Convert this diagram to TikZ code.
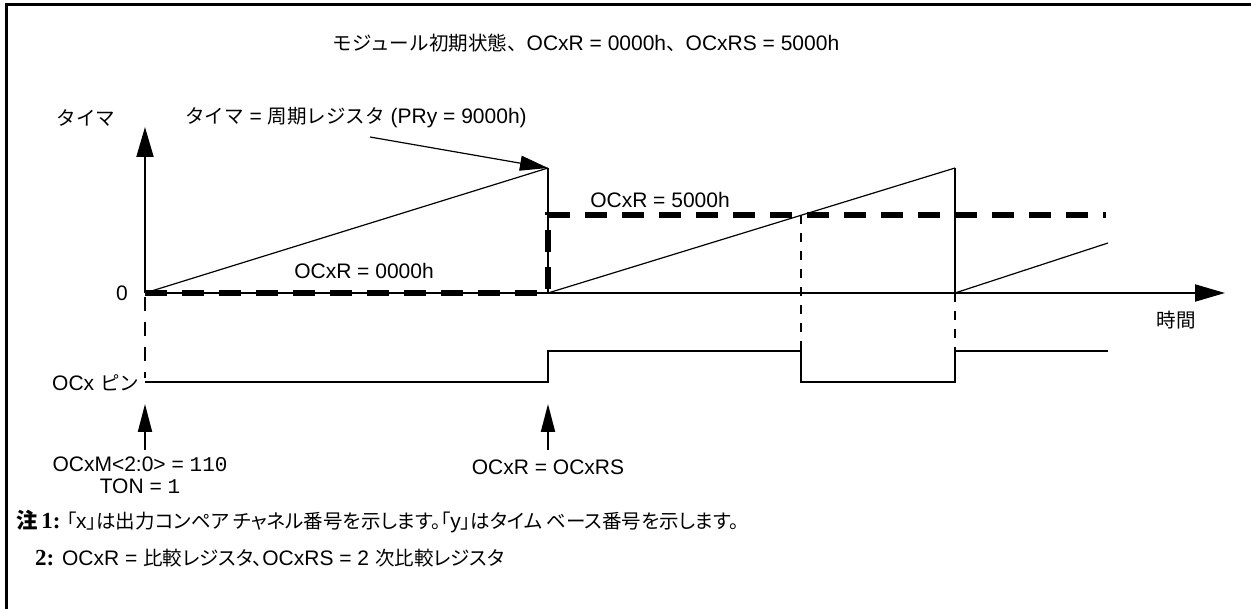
\documentclass[tikz,border=0pt]{standalone}
\usepackage{fontspec}
\setmainfont{Liberation Sans}
\newfontfamily\jpf[Scale=0.93]{Noto Sans CJK JP}
\newfontfamily\jpn[Scale=0.93,RawFeature=+palt]{Noto Sans CJK JP}
\newfontfamily\serifb{Liberation Serif}
\newfontfamily\monof{Liberation Mono}
\usetikzlibrary{arrows.meta}
\begin{document}
\begin{tikzpicture}[x=1pt,y=-1pt,
  txt/.style={inner sep=0pt,font=\fontsize{21}{25}\selectfont},
  axis/.style={line width=2pt},
  ramp/.style={line width=1.2pt},
  cmp/.style={line width=6pt,dash pattern=on 22pt off 15pt},
  guide/.style={line width=2pt,dash pattern=on 9pt off 9pt},
  bigtip/.style={-{Triangle[length=30pt,width=17pt]}},
  uptip/.style={-{Triangle[length=28pt,width=14pt]}}]
\useasboundingbox (0,0) rectangle (1251,609);
% frame
\draw[line width=3pt] (6,609) -- (6,5) -- (1251,5);
% coordinates
\coordinate (O) at (145,293);
\coordinate (ytop) at (145,127);
\coordinate (xend) at (1225,293);
\coordinate (p1) at (548,168);
\coordinate (p1b) at (548,293);
\coordinate (p2) at (955,168);
\coordinate (p2b) at (955,293);
\coordinate (r3) at (1108,243);
\coordinate (d1) at (548,215);
\coordinate (d2) at (1106,215);
\coordinate (c1) at (801,215);
\coordinate (c1b) at (801,351);
\coordinate (p2c) at (955,351);
\coordinate (pinA) at (145,382);
\coordinate (pinB) at (548,382);
\coordinate (pinC) at (548,351);
\coordinate (pinD) at (801,382);
\coordinate (pinE) at (955,382);
\coordinate (pinF) at (1108,351);
\coordinate (pinstart) at (145,297);
\coordinate (pinend) at (145,378);
\coordinate (a1b) at (145,450);
\coordinate (a1t) at (145,404);
\coordinate (a2b) at (548,450);
\coordinate (a2t) at (548,404);
\coordinate (lead) at (370,137);
% texts
\node[txt] (title) at (586,43) {{\jpf モジュール初期状態、}OCxR = 0000h{\jpf 、}OCxRS = 5000h};
\node[txt] (ylab) at (86,118) {\jpf タイマ};
\node[txt,anchor=west] (prlab) at (185,118) {{\jpf タイマ} = {\jpf 周期レジスタ} (PRy = 9000h)};
\node[txt] (zero) at (122,293) {0};
\node[txt] (tlab) at (1176,320) {\jpf 時間};
\node[txt] (r0lab) at (364,271) {OCxR = 0000h};
\node[txt] (r5lab) at (660,200) {OCxR = 5000h};
\node[txt,anchor=west] (pinlab) at (52,383) {OCx {\jpf ピン}};
\node[txt,align=center] (modelab) at (140,475) {OCxM<2:0> = {\monof 110}\\[-3pt]TON = {\monof 1}};
\node[txt] (eqlab) at (548,467) {OCxR = OCxRS};
\node[txt,anchor=west] (note1) at (16,522) {{\fontsize{23}{26}\selectfont{\jpf\bfseries 注}{\serifb\bfseries\,1:}}\ {\jpn 「}x{\jpn 」は出力コンペア チャネル番号を示します。「}y{\jpn 」はタイム ベース番号を示します。}};
\node[txt,anchor=west] (note2) at (35,558) {{\fontsize{23}{26}\selectfont\serifb\bfseries 2:} OCxR = {\jpn 比較レジスタ、}OCxRS = 2 {\jpn 次比較レジスタ}};
% axes
\draw[axis,bigtip] (O) -- (ytop);
\draw[axis,bigtip] (O) -- (xend);
% timer ramps
\draw[ramp] (O) -- (p1);
\draw[axis] (p1) -- (p1b);
\draw[ramp] (p1b) -- (p2);
\draw[axis] (p2) -- (p2b);
\draw[ramp] (p2b) -- (r3);
% compare value
\draw[cmp] (O) -- (p1b) -- (d1) -- (d2);
% guide lines
\draw[guide] (c1) -- (c1b);
\draw[guide] (p2b) -- (p2c);
\draw[line width=2pt,dash pattern=on 14pt off 11pt] (pinstart) -- (pinend);
% pin waveform
\draw[axis] (pinA) -- (pinB) -- (pinC) -- (c1b) -- (pinD) -- (pinE) -- (p2c) -- (pinF);
% leader
\draw[ramp,-{Triangle[length=28pt,width=15pt]}] (lead) -- (p1);
% event arrows
\draw[axis,uptip] (a1b) -- (a1t);
\draw[axis,uptip] (a2b) -- (a2t);
\end{tikzpicture}
\end{document}
